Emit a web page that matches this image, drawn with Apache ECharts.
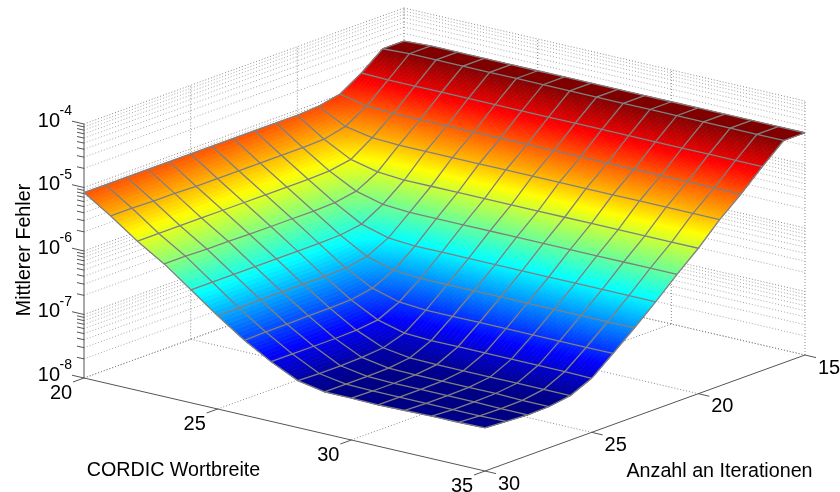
<!DOCTYPE html>
<html>
<head>
<meta charset="utf-8">
<style>html,body{margin:0;padding:0;background:#fff}#c{width:840px;height:492px}</style>
<script src="https://cdn.jsdelivr.net/npm/echarts@6/dist/echarts.min.js"></script>
</head>
<body>
<div id="c"></div>
<script>
// Axis values
const wordWidths = [20,21,22,23,24,25,26,27,28,29,30,31,32,33,34,35];
const iterations = [15,16,17,18,19,20,21,22,23,24,25,26,27,28,29,30];
const wordTicks = [20,25,30,35];
const iterTicks = [30,25,20,15];
const decadeTicks = [-8,-7,-6,-5,-4];
const xTitle = 'CORDIC Wortbreite';
const yTitle = 'Anzahl an Iterationen';
const zTitle = 'Mittlerer Fehler';

// log10 of the mean error, one list per iteration count, word width 20..35
const err15 = [-4.52,-4.50,-4.50,-4.50,-4.50,-4.50,-4.50,-4.50,-4.50,-4.50,-4.50,-4.50,-4.50,-4.50,-4.50,-4.50];
const err16 = [-4.52,-4.50,-4.50,-4.50,-4.50,-4.50,-4.50,-4.50,-4.50,-4.50,-4.50,-4.50,-4.50,-4.50,-4.50,-4.50];
const err17 = [-4.78,-4.79,-4.79,-4.79,-4.79,-4.79,-4.79,-4.79,-4.79,-4.79,-4.79,-4.79,-4.79,-4.79,-4.79,-4.79];
const err18 = [-4.99,-5.08,-5.10,-5.10,-5.10,-5.10,-5.10,-5.10,-5.10,-5.10,-5.10,-5.10,-5.10,-5.10,-5.10,-5.10];
const err19 = [-5.06,-5.28,-5.36,-5.38,-5.38,-5.38,-5.38,-5.38,-5.38,-5.38,-5.38,-5.38,-5.38,-5.38,-5.38,-5.38];
const err20 = [-5.08,-5.36,-5.58,-5.68,-5.71,-5.71,-5.71,-5.71,-5.71,-5.71,-5.71,-5.71,-5.71,-5.71,-5.71,-5.71];
const err21 = [-5.08,-5.37,-5.64,-5.86,-5.97,-6.00,-6.00,-6.00,-6.00,-6.00,-6.00,-6.00,-6.00,-6.00,-6.00,-6.00];
const err22 = [-5.08,-5.37,-5.65,-5.92,-6.16,-6.28,-6.31,-6.31,-6.31,-6.31,-6.31,-6.31,-6.31,-6.31,-6.31,-6.31];
const err23 = [-5.08,-5.37,-5.65,-5.93,-6.21,-6.45,-6.57,-6.60,-6.60,-6.60,-6.60,-6.60,-6.60,-6.60,-6.60,-6.60];
const err24 = [-5.08,-5.37,-5.65,-5.93,-6.22,-6.51,-6.73,-6.85,-6.88,-6.88,-6.88,-6.88,-6.88,-6.88,-6.88,-6.88];
const err25 = [-5.08,-5.37,-5.65,-5.93,-6.22,-6.52,-6.79,-7.01,-7.12,-7.14,-7.14,-7.14,-7.14,-7.14,-7.14,-7.15];
const err26 = [-5.08,-5.37,-5.65,-5.93,-6.22,-6.52,-6.80,-7.05,-7.23,-7.29,-7.30,-7.30,-7.30,-7.30,-7.30,-7.30];
const err27 = [-5.08,-5.36,-5.65,-5.92,-6.22,-6.52,-6.80,-7.06,-7.26,-7.33,-7.34,-7.34,-7.34,-7.34,-7.35,-7.35];
const err28 = [-5.08,-5.36,-5.65,-5.92,-6.22,-6.52,-6.81,-7.06,-7.27,-7.34,-7.35,-7.35,-7.35,-7.35,-7.36,-7.36];
const err29 = [-5.08,-5.35,-5.65,-5.91,-6.22,-6.53,-6.81,-7.06,-7.27,-7.34,-7.35,-7.35,-7.35,-7.35,-7.35,-7.34];
const err30 = [-5.08,-5.35,-5.65,-5.91,-6.22,-6.53,-6.82,-7.06,-7.26,-7.34,-7.34,-7.35,-7.34,-7.33,-7.33,-7.32];
const errorRows = [err15,err16,err17,err18,err19,err20,err21,err22,err23,err24,err25,err26,err27,err28,err29,err30];

// Orthographic view of the 3-D box
const W0 = 20, W1 = 35, I0 = 15, I1 = 30, Z0 = -8, Z1 = -4;
const origin = [84, 378], wVec = [401, 93], iVec = [320, -116], zVec = [0, -254];
function project(w, it, z) {
  const a = (w - W0) / (W1 - W0), b = (I1 - it) / (I1 - I0), c = (z - Z0) / (Z1 - Z0);
  return [origin[0] + a * wVec[0] + b * iVec[0], origin[1] + a * wVec[1] + b * iVec[1] + c * zVec[1]];
}
const flat = errorRows.reduce((s, r) => s.concat(r), []);
const zMin = Math.min.apply(null, flat), zMax = Math.max.apply(null, flat);
function clamp(v) { return Math.max(0, Math.min(1, v)); }
function jet(z) {
  const t = (z - zMin) / (zMax - zMin);
  const r = clamp(1.5 - Math.abs(4 * t - 3)), g = clamp(1.5 - Math.abs(4 * t - 2)), b = clamp(1.5 - Math.abs(4 * t - 1));
  return 'rgb(' + Math.round(r * 255) + ',' + Math.round(g * 255) + ',' + Math.round(b * 255) + ')';
}

// Wall, floor and axis segments
const zMinorTicks = [];
decadeTicks.slice(0, -1).forEach(d => [2,3,4,5,6,7,8,9].forEach(m => zMinorTicks.push(d + Math.log10(m))));
const dotted = [], solid = [];
decadeTicks.concat(zMinorTicks).forEach(z => {
  const maj = decadeTicks.indexOf(z) >= 0;
  dotted.push([W0, I1, z, W0, I0, z, maj ? 1 : 0]);
  dotted.push([W0, I0, z, W1, I0, z, maj ? 1 : 0]);
});
wordTicks.forEach(w => {
  if (w > W0) dotted.push([w, I0, Z0, w, I0, Z1, 1]);
  if (w > W0 && w < W1) dotted.push([w, I1, Z0, w, I0, Z0, 1]);
});
iterTicks.forEach(it => {
  if (it < I1) dotted.push([W0, it, Z0, W0, it, Z1, 1]);
  if (it < I1 && it > I0) dotted.push([W0, it, Z0, W1, it, Z0, 1]);
});
dotted.push([W0, I1, Z0, W0, I0, Z0, 1]);
dotted.push([W0, I0, Z0, W1, I0, Z0, 1]);

solid.push([W0, I1, Z0, W0, I1, Z1]);
solid.push([W0, I1, Z0, W1, I1, Z0]);
solid.push([W1, I1, Z0, W1, I0, Z0]);

const fillCells = [];
for (let r = 0; r < iterations.length - 1; r++)
  for (let c = 0; c < wordWidths.length - 1; c++) fillCells.push([c, r]);

const edgeItems = [];
iterations.forEach((_, r) => edgeItems.push([0, r]));
wordWidths.forEach((_, c) => edgeItems.push([1, c]));

const SUB_U = 8, SUB_V = 24;
function renderCell(params, api) {
  const c = api.value(0), r = api.value(1);
  const wa = wordWidths[c], wb = wordWidths[c + 1], ia = iterations[r], ib = iterations[r + 1];
  const z00 = errorRows[r][c], z10 = errorRows[r][c + 1], z01 = errorRows[r + 1][c], z11 = errorRows[r + 1][c + 1];
  const zAt = (u, v) => z00 * (1 - u) * (1 - v) + z10 * u * (1 - v) + z01 * (1 - u) * v + z11 * u * v;
  const pt = (u, v) => api.coord(project(wa + (wb - wa) * u, ia + (ib - ia) * v, zAt(u, v)));
  const children = [];
  for (let m = 0; m < SUB_V; m++) for (let n = 0; n < SUB_U; n++) {
    const u0 = n / SUB_U, u1 = (n + 1) / SUB_U, v0 = m / SUB_V, v1 = (m + 1) / SUB_V;
    const col = jet(zAt((u0 + u1) / 2, (v0 + v1) / 2));
    children.push({
      type: 'polygon', silent: true,
      shape: { points: [pt(u0, v0), pt(u1, v0), pt(u1, v1), pt(u0, v1)] },
      style: { fill: col, stroke: col, lineWidth: 0.7 }
    });
  }
  return { type: 'group', children };
}
function renderEdge(params, api) {
  const kind = api.value(0), k = api.value(1);
  const pts = kind === 0
    ? wordWidths.map((w, c) => api.coord(project(w, iterations[k], errorRows[k][c])))
    : iterations.map((it, r) => api.coord(project(wordWidths[k], it, errorRows[r][k])));
  return { type: 'polyline', silent: true, shape: { points: pts },
    style: { fill: 'none', stroke: '#808080', lineWidth: 1.3 } };
}
function seg(api, stroke, width, dash) {
  return { type: 'line', silent: true,
    shape: (function () {
      const a = api.coord(project(api.value(0), api.value(1), api.value(2)));
      const b = api.coord(project(api.value(3), api.value(4), api.value(5)));
      return { x1: a[0], y1: a[1], x2: b[0], y2: b[1] };
    })(),
    style: { stroke, lineWidth: width, lineDash: dash, fill: null } };
}
const FONT = '"Liberation Sans", Arial, sans-serif';
function label(x, y, text, size, align, rot) {
  return { type: 'text', silent: true, x, y, rotation: rot || 0,
    style: { text, fontSize: size, fontFamily: FONT, fill: '#000', align: align || 'center', verticalAlign: 'middle' } };
}
function renderDecor(params, api) {
  const children = [];
  const tick = (p, dx, dy) => ({ type: 'line', silent: true,
    shape: { x1: p[0], y1: p[1], x2: p[0] + dx, y2: p[1] + dy },
    style: { stroke: '#555', lineWidth: 1 } });
  decadeTicks.forEach(z => {
    const p = api.coord(project(W0, I1, z));
    children.push(tick(p, -12, -2.8));
    children.push(label(60, p[1] - 3, '10', 20, 'right'));
    children.push(label(59.5, p[1] - 12.5, String(z), 14, 'left'));
  });
  zMinorTicks.forEach(z => children.push(tick(api.coord(project(W0, I1, z)), -7, -1.6)));
  wordTicks.forEach(w => {
    const p = api.coord(project(w, I1, Z0));
    children.push(tick(p, -11, 4));
    children.push(label(p[0] - 23, p[1] + 15.5, String(w), 20));
  });
  iterTicks.forEach(it => {
    const p = api.coord(project(W1, it, Z0));
    children.push(tick(p, 11, 2.6));
    children.push(label(p[0] + 24, p[1] + 13, String(it), 20));
  });
  children.push(label(173.5, 470.5, xTitle, 19.7));
  children.push(label(719.5, 471.5, yTitle, 19.7));
  children.push(label(25, 250, zTitle, 19.7, 'center', Math.PI / 2));
  return { type: 'group', children };
}

const base = { type: 'custom', coordinateSystem: 'cartesian2d', animation: false, silent: true, clip: false, progressive: 0 };
const chart = echarts.init(document.getElementById('c'), null, { renderer: 'canvas' });
chart.setOption({
  animation: false,
  backgroundColor: '#fff',
  grid: { left: 0, top: 0, right: 0, bottom: 0 },
  xAxis: { type: 'value', min: 0, max: 840, show: false },
  yAxis: { type: 'value', min: 0, max: 492, inverse: true, show: false },
  tooltip: { show: false },
  series: [
    Object.assign({}, base, { name: 'walls', data: dotted, z: 1,
      renderItem: (p, api) => seg(api, api.value(6) ? '#8a8a8a' : '#a8a8a8', 1, [1, 2]) }),
    Object.assign({}, base, { name: 'axes', data: solid, z: 2,
      renderItem: (p, api) => seg(api, '#555', 1, null) }),
    Object.assign({}, base, { name: 'decor', data: [[0, 0]], z: 3, renderItem: renderDecor }),
    Object.assign({}, base, { name: 'surface', data: fillCells, z: 4, renderItem: renderCell }),
    Object.assign({}, base, { name: 'mesh', data: edgeItems, z: 5, renderItem: renderEdge })
  ]
});
</script>
</body>
</html>
